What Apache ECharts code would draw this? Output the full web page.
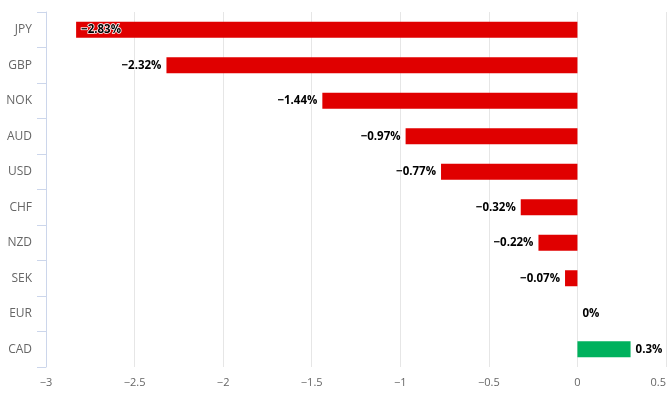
<!DOCTYPE html>
<html>
<head>
<meta charset="utf-8">
<script src="https://cdn.jsdelivr.net/npm/echarts@6/dist/echarts.min.js"></script>
<style>html,body{margin:0;padding:0;background:#fff}#c{width:671px;height:406px}</style>
</head>
<body>
<div id="c"></div>
<script>
var categories = ['JPY','GBP','NOK','AUD','USD','CHF','NZD','SEK','EUR','CAD'];
var values = [-2.83,-2.32,-1.44,-0.97,-0.77,-0.32,-0.22,-0.07,0,0.3];
var xTicks = [-3,-2.5,-2,-1.5,-1,-0.5,0,0.5];

var FONT = 'Open Sans';
function fmtNum(v){ return (v < 0 ? '\u2212' : '') + Math.abs(v); }

var data = values.map(function(v, i){
  var item = { value: v, itemStyle: { color: v < 0 ? '#e00000' : '#00b15d' } };
  var pos = v < 0 ? 'left' : 'right';
  if (v < -2.6) pos = 'insideLeft';
  item.label = { position: pos };
  return item;
});

var chart = echarts.init(document.getElementById('c'));
chart.setOption({
  animation: false,
  grid: { left: 46, right: 5, top: 12, bottom: 39, containLabel: false },
  xAxis: {
    type: 'value', min: -3, max: 0.5, interval: 0.5,
    axisLine: { show: false }, axisTick: { show: false },
    splitLine: { show: true, lineStyle: { color: '#e6e6e6', width: 1 } },
    axisLabel: {
      color: '#666', fontFamily: FONT, fontSize: 11, margin: 10,
      alignMaxLabel: 'right',
      formatter: function(v){ return fmtNum(v); }
    }
  },
  yAxis: {
    type: 'category', data: categories, inverse: true,
    axisLine: { show: true, onZero: false, lineStyle: { color: '#ccd6eb', width: 1 } },
    axisTick: { show: true, length: 9, inside: false, lineStyle: { color: '#ccd6eb', width: 1 } },
    axisLabel: { color: '#666', fontFamily: FONT, fontSize: 12, margin: 14 },
    splitLine: { show: false }
  },
  series: [{
    type: 'bar', data: data, barWidth: 16,
    label: {
      show: true, distance: 5, color: '#000', fontFamily: FONT, fontSize: 11.5,
      fontWeight: 'bold', textBorderColor: '#fff', textBorderWidth: 1.5,
      formatter: function(p){ return fmtNum(p.value) + '%'; }
    }
  }]
});
</script>
</body>
</html>
